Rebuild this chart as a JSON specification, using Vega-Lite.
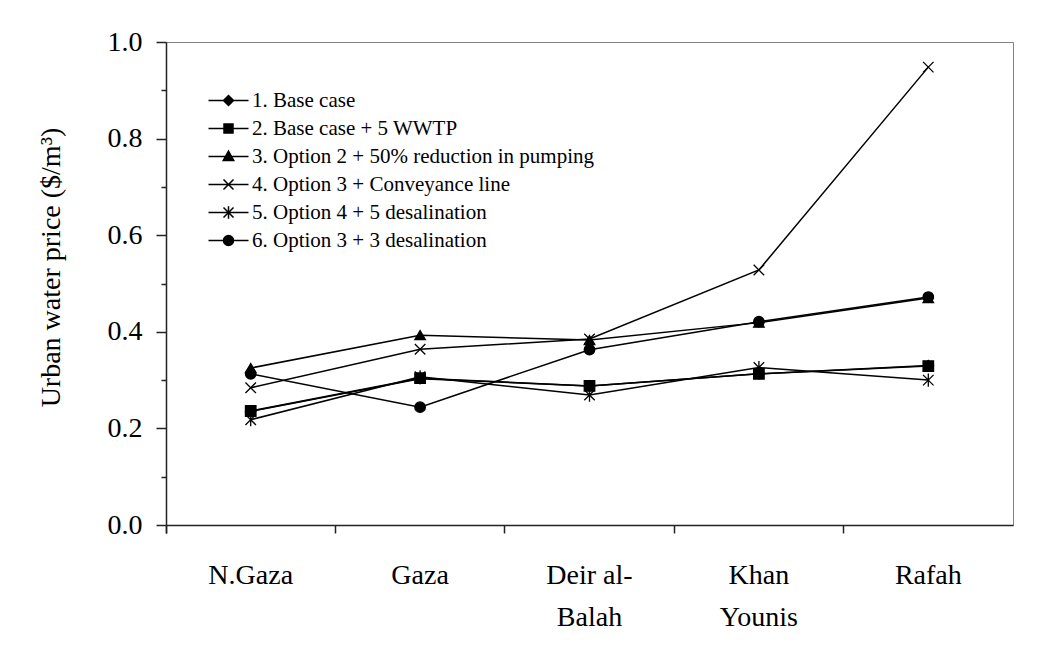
{
  "$schema": "https://vega.github.io/schema/vega-lite/v6.json",
  "width": 847,
  "height": 483,
  "autosize": {"type": "none"},
  "padding": {"left": 166, "top": 42, "right": 26, "bottom": 127},
  "background": "white",
  "config": {
    "font": "Liberation Serif",
    "view": {"stroke": "#808080", "strokeWidth": 1},
    "axis": {"grid": false, "domainColor": "#222222", "domainWidth": 1.5, "tickColor": "#222222", "tickWidth": 1.5, "labelColor": "black", "titleColor": "black", "labelFont": "Liberation Serif", "titleFont": "Liberation Serif"}
  },
  "data": {"values": [
    {"series": "1. Base case", "region": "N.Gaza", "price": 0.235},
    {"series": "1. Base case", "region": "Gaza", "price": 0.303},
    {"series": "1. Base case", "region": "Deir al-Balah", "price": 0.288},
    {"series": "1. Base case", "region": "Khan Younis", "price": 0.313},
    {"series": "1. Base case", "region": "Rafah", "price": 0.330},
    {"series": "2. Base case + 5 WWTP", "region": "N.Gaza", "price": 0.236},
    {"series": "2. Base case + 5 WWTP", "region": "Gaza", "price": 0.304},
    {"series": "2. Base case + 5 WWTP", "region": "Deir al-Balah", "price": 0.288},
    {"series": "2. Base case + 5 WWTP", "region": "Khan Younis", "price": 0.313},
    {"series": "2. Base case + 5 WWTP", "region": "Rafah", "price": 0.329},
    {"series": "3. Option 2 + 50% reduction in pumping", "region": "N.Gaza", "price": 0.325},
    {"series": "3. Option 2 + 50% reduction in pumping", "region": "Gaza", "price": 0.393},
    {"series": "3. Option 2 + 50% reduction in pumping", "region": "Deir al-Balah", "price": 0.383},
    {"series": "3. Option 2 + 50% reduction in pumping", "region": "Khan Younis", "price": 0.419},
    {"series": "3. Option 2 + 50% reduction in pumping", "region": "Rafah", "price": 0.470},
    {"series": "4. Option 3 + Conveyance line", "region": "N.Gaza", "price": 0.284},
    {"series": "4. Option 3 + Conveyance line", "region": "Gaza", "price": 0.364},
    {"series": "4. Option 3 + Conveyance line", "region": "Deir al-Balah", "price": 0.385},
    {"series": "4. Option 3 + Conveyance line", "region": "Khan Younis", "price": 0.528},
    {"series": "4. Option 3 + Conveyance line", "region": "Rafah", "price": 0.948},
    {"series": "5. Option 4 + 5 desalination", "region": "N.Gaza", "price": 0.218},
    {"series": "5. Option 4 + 5 desalination", "region": "Gaza", "price": 0.307},
    {"series": "5. Option 4 + 5 desalination", "region": "Deir al-Balah", "price": 0.269},
    {"series": "5. Option 4 + 5 desalination", "region": "Khan Younis", "price": 0.326},
    {"series": "5. Option 4 + 5 desalination", "region": "Rafah", "price": 0.300},
    {"series": "6. Option 3 + 3 desalination", "region": "N.Gaza", "price": 0.313},
    {"series": "6. Option 3 + 3 desalination", "region": "Gaza", "price": 0.244},
    {"series": "6. Option 3 + 3 desalination", "region": "Deir al-Balah", "price": 0.363},
    {"series": "6. Option 3 + 3 desalination", "region": "Khan Younis", "price": 0.421},
    {"series": "6. Option 3 + 3 desalination", "region": "Rafah", "price": 0.472}
  ]},
  "encoding": {
    "x": {
      "field": "region", "type": "nominal", "sort": null, "bandPosition": 0.5,
      "scale": {"type": "band", "paddingInner": 0, "paddingOuter": 0},
      "axis": {
        "title": null, "labelAngle": 0, "labelFontSize": 28, "labelLineHeight": 42,
        "labelPadding": 28, "tickSize": 8, "bandPosition": 0, "tickExtra": true,
        "labelExpr": "datum.value == 'Deir al-Balah' ? ['Deir al-', 'Balah'] : datum.value == 'Khan Younis' ? ['Khan', 'Younis'] : datum.value"
      }
    },
    "y": {
      "field": "price", "type": "quantitative",
      "scale": {"domain": [0, 1], "nice": false, "zero": true},
      "axis": {
        "title": "Urban water price ($/m³)", "titleFontSize": 28, "titleFontWeight": "normal",
        "titleX": -115, "titleY": 225, "titleBaseline": "middle", "titleAlign": "center", "titleAngle": -90,
        "values": [0, 0.1, 0.2, 0.3, 0.4, 0.5, 0.6, 0.7, 0.8, 0.9, 1.0],
        "labelExpr": "round(datum.value*10) % 2 == 0 ? format(datum.value, '.1f') : ''",
        "labelFontSize": 28, "labelPadding": 14,
        "tickSize": {"condition": {"test": "round(datum.value*10) % 2 == 0", "value": 10}, "value": 5}
      }
    }
  },
  "resolve": {"scale": {"shape": "independent"}, "legend": {"shape": "independent"}},
  "layer": [
    {
      "mark": {"type": "line", "color": "black", "strokeWidth": 1.5},
      "encoding": {"detail": {"field": "series", "type": "nominal"}}
    },
    {
      "mark": {"type": "point", "filled": true, "fill": "black", "stroke": "black", "strokeWidth": 1.3, "opacity": 1, "size": 110},
      "encoding": {
        "shape": {
          "field": "series", "type": "nominal", "legend": null,
          "scale": {"range": ["diamond", "square", "triangle-up", "M-1,-1L1,1M-1,1L1,-1", "M-1,-1L1,1M-1,1L1,-1M0,-1.25L0,1.25", "circle"]}
        }
      }
    },
    {
      "mark": {"type": "point", "filled": true, "fill": "black", "stroke": "black", "strokeWidth": 1.5, "opacity": 1, "size": 0},
      "encoding": {
        "shape": {
          "field": "series", "type": "nominal",
          "scale": {"range": [
            "M-4,0L4,0M0,-1L1,0L0,1L-1,0Z",
            "M-4,0L4,0M-0.9,-0.9L0.9,-0.9L0.9,0.9L-0.9,0.9Z",
            "M-4,0L4,0M0,-1.1L1.05,0.8L-1.05,0.8Z",
            "M-4,0L4,0M-1,-1L1,1M-1,1L1,-1",
            "M-4,0L4,0M-1,-1L1,1M-1,1L1,-1M0,-1.25L0,1.25",
            "M-4,0L4,0M-1,0A1,1 0 1,0 1,0A1,1 0 1,0 -1,0Z"
          ]},
          "legend": {
            "title": null, "orient": "none", "legendX": 52, "legendY": 48, "padding": 0,
            "symbolSize": 100,
            "labelFontSize": 21, "labelFont": "Liberation Serif", "labelColor": "black",
            "labelOffset": 13, "rowPadding": 6, "labelLimit": 600
          }
        }
      }
    }
  ]
}
